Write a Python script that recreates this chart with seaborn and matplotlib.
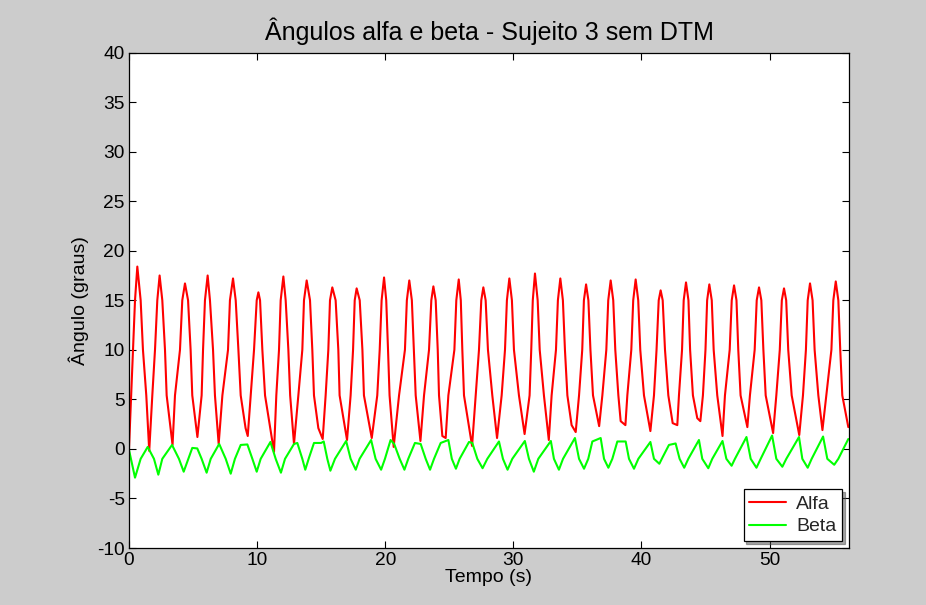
""" Angulos alfa e beta - Sujeito 3 sem DTM.

    Recreates the MATLAB style figure with seaborn.
"""

###########
# Imports #
###########
import pandas as pd
import matplotlib
matplotlib.use('Agg')
import matplotlib.pyplot as plt
import seaborn as sns

########
# Data #
########
# Alfa: points, one row per cycle
# (edge points, peak, edge points, trough / shoulder)
alfa_t = [0.00,
          0.31, 0.47, 0.65, 0.91, 1.09, 1.35, 1.58, 1.82,
          2.03, 2.21, 2.39, 2.60, 2.81, 2.94, 3.40, 3.59,
          3.98, 4.16, 4.37, 4.61, 4.81, 4.94, 5.34, 5.67,
          5.78, 5.93, 6.14, 6.32, 6.56, 6.71, 7.00, 7.29,
          7.73, 7.88, 8.12, 8.33, 8.54, 8.72, 9.10, 9.27, 9.50,
          9.76, 9.97, 10.10, 10.23, 10.41, 10.62, 11.32, 11.50,
          11.71, 11.84, 12.05, 12.23, 12.44, 12.58, 12.88, 13.22,
          13.53, 13.66, 13.87, 14.13, 14.31, 14.44, 14.78, 15.12, 15.35,
          15.56, 15.69, 15.87, 16.13, 16.34, 16.44, 17.02, 17.30,
          17.49, 17.62, 17.77, 18.01, 18.22, 18.34, 18.95, 19.38,
          19.57, 19.72, 19.91, 20.08, 20.22, 20.34, 20.66, 21.08,
          21.54, 21.69, 21.88, 22.08, 22.24, 22.38, 22.75, 23.03,
          23.42, 23.60, 23.76, 23.94, 24.10, 24.20, 24.46, 24.72, 24.93,
          25.40, 25.55, 25.74, 25.90, 26.02, 26.15, 26.78, 27.06,
          27.32, 27.50, 27.66, 27.84, 28.02, 28.36, 28.73, 29.09,
          29.35, 29.50, 29.69, 29.89, 30.05, 30.44, 30.88, 31.27,
          31.40, 31.52, 31.69, 31.90, 32.06, 32.39, 32.77, 32.99,
          33.33, 33.48, 33.67, 33.87, 34.03, 34.22, 34.55, 34.87, 35.13,
          35.38, 35.51, 35.68, 35.86, 36.02, 36.22, 36.70, 36.95,
          37.26, 37.41, 37.60, 37.80, 37.96, 38.20, 38.38, 38.75, 38.90,
          39.21, 39.36, 39.55, 39.75, 39.91, 40.20, 40.70, 40.98,
          41.18, 41.35, 41.50, 41.66, 41.84, 42.10, 42.44, 42.80, 42.93,
          43.17, 43.30, 43.48, 43.67, 43.80, 44.02, 44.36, 44.60, 44.80,
          45.00, 45.13, 45.30, 45.49, 45.64, 45.92, 46.33, 46.52,
          46.89, 47.05, 47.23, 47.42, 47.56, 47.74, 48.27, 48.47,
          48.84, 49.00, 49.18, 49.36, 49.52, 49.70, 50.28, 50.53,
          50.80, 50.96, 51.13, 51.30, 51.46, 51.73, 52.32, 52.61,
          52.84, 52.98, 53.16, 53.36, 53.52, 53.81, 54.13, 54.43,
          54.83, 54.98, 55.17, 55.37, 55.52, 55.68, 56.15]
alfa_v = [0.0,
          10, 15, 18.4, 15, 10, 5.4, -0.2, 5.4,
          10, 15, 17.5, 15, 10, 5.4, 0.4, 5.4,
          10, 15, 16.7, 15, 10, 5.4, 1.2, 5.4,
          10, 15, 17.5, 15, 10, 5.4, 0.5, 5.4,
          10, 15, 17.2, 15, 10, 5.4, 2.1, 1.3, 5.4,
          10, 15, 15.8, 15, 10, 5.4, -0.3, 5.4,
          10, 15, 17.4, 15, 10, 5.4, 0.5, 5.4,
          10, 15, 17.0, 15, 10, 5.4, 2.1, 1.0, 5.4,
          10, 15, 16.3, 15, 10, 5.4, 0.9, 5.4,
          10, 15, 16.2, 15, 10, 5.4, 1.1, 5.4,
          10, 15, 17.3, 15, 10, 5.4, 0.2, 5.4,
          10, 15, 17.0, 15, 10, 5.4, 0.8, 5.4,
          10, 15, 16.4, 15, 10, 5.4, 1.3, 1.1, 5.4,
          10, 15, 17.1, 15, 10, 5.4, 0.3, 5.4,
          10, 15, 16.3, 15, 10, 5.4, 1.1, 5.4,
          10, 15, 17.2, 15, 10, 5.4, 1.5, 5.4,
          10, 15, 17.7, 15, 10, 5.4, 0.9, 5.4,
          10, 15, 17.2, 15, 10, 5.4, 2.4, 1.7, 5.4,
          10, 15, 16.6, 15, 10, 5.4, 2.3, 5.4,
          10, 15, 17.0, 15, 10, 5.4, 2.8, 2.4, 5.4,
          10, 15, 17.1, 15, 10, 5.4, 1.8, 5.4,
          10, 15, 16.0, 15, 10, 5.4, 2.6, 2.4, 5.4,
          10, 15, 16.8, 15, 10, 5.4, 3.1, 2.8, 5.4,
          10, 15, 16.6, 15, 10, 5.4, 1.3, 5.4,
          10, 15, 16.5, 15, 10, 5.4, 2.2, 5.4,
          10, 15, 16.3, 15, 10, 5.4, 1.6, 5.4,
          10, 15, 16.2, 15, 10, 5.4, 1.4, 5.4,
          10, 15, 16.7, 15, 10, 5.4, 1.9, 5.4,
          10, 15, 16.9, 15, 10, 5.4, 2.2]

# Beta: points (peaks, plateaus, troughs, edge crossings)
beta_t = [0.00, 0.47, 0.91, 1.46, 1.95, 2.29, 2.60, 3.36, 3.90, 4.27, 4.63, 4.94,
          5.33, 5.67, 6.06, 6.38, 7.04, 7.55, 7.94, 8.27, 8.72, 9.24, 9.63, 9.97,
          10.28, 11.04, 11.45, 11.86, 12.18, 12.88, 13.14, 13.53, 13.76, 14.05,
          14.44, 15.00, 15.20, 15.48, 15.72, 16.08, 16.95, 17.30, 17.70, 18.00,
          18.90, 19.25, 19.68, 19.98, 20.42, 20.70, 21.13, 21.50, 21.80, 22.32,
          22.77, 23.16, 23.50, 23.81, 24.33, 24.93, 25.20, 25.52, 25.81, 26.54,
          26.80, 27.19, 27.60, 27.97, 28.88, 29.19, 29.55, 29.92, 30.90, 31.22,
          31.60, 31.95, 32.93, 33.17, 33.56, 33.88, 34.81, 35.13, 35.52, 35.85,
          36.17, 36.82, 37.08, 37.42, 37.73, 38.12, 38.77, 39.03, 39.42, 39.76,
          40.70, 40.98, 41.40, 41.63, 42.15, 42.67, 42.98, 43.34, 43.66, 44.49,
          44.75, 45.22, 45.53, 46.33, 46.63, 47.04, 47.30, 48.20, 48.53, 48.98,
          49.31, 50.20, 50.53, 51.00, 51.31, 52.30, 52.56, 52.98, 53.29, 54.18,
          54.51, 55.05, 55.37, 56.15]
beta_v = [-0.1, -2.9, -1.0, 0.2, -1.0, -2.6, -1.0, 0.4, -1.0, -2.3, -1.0, 0.1,
          0.05, -1.0, -2.4, -1.0, 0.5, -1.0, -2.5, -1.0, 0.4, 0.45, -1.0, -2.3,
          -1.0, 0.7, -1.0, -2.4, -1.0, 0.5, 0.6, -1.0, -2.1, -0.9,
          0.6, 0.6, 0.75, -1.0, -2.2, -1.0, 0.8, -1.0, -2.1, -1.0,
          0.9, -1.0, -2.1, -1.0, 0.9, 0.5, -1.0, -2.1, -1.0, 0.6,
          0.5, -1.0, -2.1, -1.0, 0.6, 0.9, -1.0, -2.0, -1.0, 0.7,
          0.6, -1.0, -1.95, -1.0, 0.75, -1.0, -2.1, -1.0, 0.8, -1.0,
          -2.3, -1.0, 0.8, -1.0, -2.1, -1.0, 1.1, -1.0, -2.0, -1.0,
          0.75, 1.1, -1.0, -1.9, -1.0, 0.75, 0.75, -1.0, -2.0, -1.0,
          0.7, -1.0, -1.5, -0.9, 0.4, 0.55, -1.0, -1.9, -1.0, 0.9,
          -1.0, -1.95, -1.0, 0.8, -1.0, -1.7, -1.0, 1.2, -1.0, -1.9,
          -1.0, 1.35, -1.0, -1.8, -1.0, 1.2, -1.0, -1.9, -1.0, 1.25,
          -1.0, -1.6, -1.0, 1.0]

series_names = ['Alfa', 'Beta']
colors = {'Alfa': '#ff0000', 'Beta': '#00ff00'}
y_ticks = list(range(-10, 45, 5))
x_ticks = [0, 10, 20, 30, 40, 50]

# Long format for seaborn
df = pd.concat([
    pd.DataFrame({'tempo': alfa_t, 'angulo': alfa_v, 'serie': 'Alfa'}),
    pd.DataFrame({'tempo': beta_t, 'angulo': beta_v, 'serie': 'Beta'}),
], ignore_index=True)

########
# Plot #
########
sns.set_theme(style='white')
plt.rcParams['font.family'] = ['Liberation Sans', 'DejaVu Sans']
plt.rcParams['axes.unicode_minus'] = False
plt.rcParams['xtick.direction'] = 'in'
plt.rcParams['ytick.direction'] = 'in'

fig = plt.figure(figsize=(9.26, 6.05), dpi=100, facecolor='#cccccc')
ax = fig.add_axes([0.1393, 0.0942, 0.9168 - 0.1393, 0.9132 - 0.0942])
ax.set_facecolor('white')

sns.lineplot(data=df, x='tempo', y='angulo', hue='serie', hue_order=series_names,
             palette=colors, estimator=None, sort=False, linewidth=1.5, ax=ax)

ax.set_xlim(0, 56.2)
ax.set_ylim(-10, 40)
ax.set_xticks(x_ticks)
ax.set_yticks(y_ticks)
ax.tick_params(axis='both', which='both', labelsize=13.8, length=5, width=0.8,
               color='black', top=True, right=True, bottom=True, left=True,
               pad=3, labelcolor='black')
for side in ax.spines.values():
    side.set_color('black')
    side.set_linewidth(0.9)

ax.set_title('Ângulos alfa e beta - Sujeito 3 sem DTM', fontsize=18,
             color='black', pad=9)
ax.set_xlabel('Tempo (s)', fontsize=14, color='black', labelpad=0)
ax.set_ylabel('Ângulo (graus)', fontsize=14, color='black', labelpad=6)

leg = ax.legend(loc='lower right', fontsize=14, frameon=True, fancybox=False,
                shadow=True, borderaxespad=0.35, handlelength=1.9,
                handletextpad=0.5, borderpad=0.3, labelspacing=0.25)
leg.get_frame().set_edgecolor('black')
leg.get_frame().set_linewidth(0.9)
leg.set_title(None)

fig.savefig('out.png', dpi=100, facecolor=fig.get_facecolor())
